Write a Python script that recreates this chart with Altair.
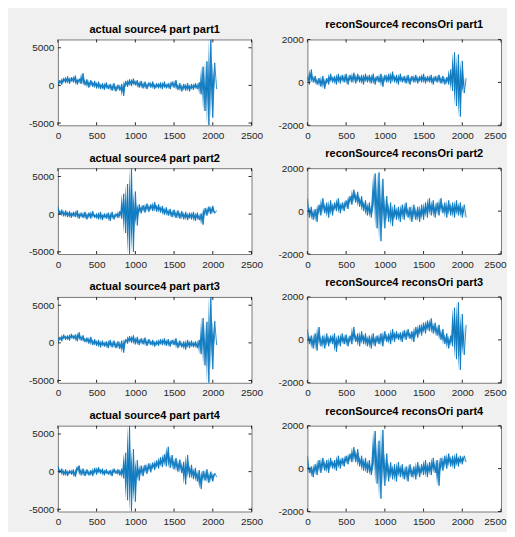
import altair as alt
import pandas as pd

# sample index of each value (every 25 samples, 0..2050)
XS = list(range(0, 2051, 25))

L1 = [0, 700, 100, 1000, 300, 1200, 200, 1100, 400, 1300,
      100, 900, 200, 1600, 0, 800, -300, 700, -200, 600,
      -400, 500, -500, 300, -600, 400, -500, 200, -700, 300,
      -800, 100, -700, 200, -1400, 600, -200, 800, -100, 900,
      0, 700, -300, 600, -400, 500, -500, 400, -300, 500,
      -500, 300, -400, 400, -500, 500, -400, 300, -500, 500,
      -300, 700, -600, 300, -800, 200, -700, 300, -800, 200,
      -600, 300, -500, 400, -1200, 2500, -3400, 3200, -5300, 6100,
      -4300, 3000, -500]
L2 = [1000, -100, 600, -300, 500, -400, 400, -500, 300, -400,
      500, -600, 200, -500, 300, -700, 200, -600, 400, -500,
      100, -700, 300, -800, 100, -600, 200, -900, 300, -700,
      100, -500, 400, -600, 2700, -2500, 4000, -5300, 6100, -5000,
      3000, -1500, 1300, 100, 1200, 200, 1400, 300, 1300, 400,
      1600, 300, 1300, 200, 1100, -100, 900, -200, 700, -400,
      600, -500, 500, -600, 400, -700, 300, -800, 200, -700,
      300, -900, 200, -800, 100, -1400, 800, -200, 1000, 0,
      1100, 100, 500]
L3 = [0, 800, 200, 1100, 400, 1000, 300, 1200, 500, 1100,
      200, 1400, 300, 1000, 100, 700, -100, 800, -300, 500,
      -400, 400, -600, 300, -500, 200, -700, 400, -600, 300,
      -700, 200, -800, 300, -1300, 500, -100, 900, 0, 1000,
      -200, 800, -300, 600, -200, 700, -400, 500, -300, 400,
      -500, 300, -400, 500, -300, 600, -400, 500, -500, 400,
      -300, 600, -700, 300, -600, 200, -900, 400, -700, 300,
      -600, 200, -700, 400, -1500, 3300, -3000, 2800, -5300, 6100,
      -3500, 2900, -300]
L4 = [800, -200, 400, -500, 300, -600, 200, -400, 300, -700,
      200, 800, -500, 400, -600, 300, -500, 200, -600, 500,
      -400, 600, -300, 400, -500, 300, -400, 200, -600, 400,
      -300, 300, -500, 400, -900, 2500, -3800, 6100, -5300, 3000,
      -4000, 1500, -1200, 800, -600, 900, -300, 1100, -100, 1200,
      200, 1500, 400, 1900, 600, 2300, 700, 3300, 500, 2200,
      300, 1800, 0, 1600, -200, 1300, -1700, 2200, -800, 900,
      -1000, 500, -1300, 200, -2300, 100, -1200, 300, -1500, 0,
      -1300, -200, -700]

R1 = [300, -100, 600, 0, 300, -100, 200, -200, 300, -300,
      200, -100, 400, 0, 300, -100, 400, -50, 350, 0,
      400, -100, 350, 0, 450, -50, 400, 0, 350, -100,
      400, 0, 350, -50, 400, -100, 300, 0, 400, -200,
      350, 0, 400, -50, 500, 0, 350, -100, 400, 0,
      300, -50, 350, -100, 300, 0, 350, -50, 300, 0,
      400, -50, 300, 0, 350, -100, 300, 0, 350, -50,
      300, -100, 250, -100, 600, -400, 1400, -1100, 1300, -1600,
      1000, -500, 200]
R2 = [600, -300, 200, -400, 100, -500, 300, -200, 600, -100,
      400, -300, 500, -200, 400, 0, 600, -100, 400, 0,
      500, 100, 700, 300, 1000, 400, 900, 200, 700, 0,
      500, -200, 400, -300, 300, 1750, -800, 1800, -1400, 1500,
      -800, 700, -500, 400, -700, 300, -400, 200, -500, 300,
      -400, 400, -300, 200, -500, 300, -400, 200, -500, 300,
      -400, 400, -300, 600, -200, 500, -300, 400, -200, 600,
      -100, 400, -300, 500, -200, 400, -300, 500, -200, 400,
      -300, 300, -300]
R3 = [500, -200, 200, -400, 300, -500, 600, -300, 200, -400,
      300, -300, 200, -200, 300, -550, 200, -300, 300, -200,
      250, -300, 200, -200, 600, -100, 300, -300, 400, -200,
      300, -300, 200, -400, 300, -300, 200, -200, 300, -300,
      400, -100, 300, -200, 500, -100, 400, 0, 350, -100,
      450, 0, 500, 50, 400, -100, 600, 100, 700, 200,
      800, 300, 900, 400, 1000, 300, 800, 200, 700, 0,
      500, -200, 300, -400, 200, -300, 1500, -900, 1750, -1400,
      1200, -700, 700]
R4 = [600, -200, 100, -400, 200, -300, 400, -200, 500, -100,
      400, -200, 500, 0, 400, -100, 600, 0, 500, 100,
      600, 200, 700, 300, 1000, 300, 900, 100, 600, -100,
      500, -200, 400, -300, 200, 1750, -700, 1300, -1400, 1800,
      -800, 700, -600, 300, -500, 200, -600, 300, -400, 200,
      -500, 100, -600, 200, -400, 100, -500, 300, -400, 200,
      -300, 400, -400, 300, -300, 500, -200, 400, -800, 500,
      -100, 600, 0, 700, 100, 600, 0, 700, 100, 600,
      200, 600, 300]

LEFT_TITLES = ["actual source4 part part1", "actual source4 part part2",
               "actual source4 part part3", "actual source4 part part4"]
RIGHT_TITLES = ["reconSource4 reconsOri part1", "reconSource4 reconsOri part2",
                "reconSource4 reconsOri part3", "reconSource4 reconsOri part4"]

X_TICKS = [0, 500, 1000, 1500, 2000, 2500]
X_DOMAIN = [0, 2500]
YL_TICKS = [-5000, 0, 5000]
YL_DOMAIN = [-5300, 6100]
YR_TICKS = [-2000, 0, 2000]
YR_DOMAIN = [-2000, 2000]

W, H = 194, 86
FONT = "Liberation Sans"
LINE = "#0072BD"
AX = "#262626"
TICK_LEN = 3


def panel(vals, title, ydom, yticks, right_col):
    df = pd.DataFrame({"x": XS, "y": vals})
    # band between each value and the next one (the swing of the trace)
    seg = pd.DataFrame({"x": XS[:-1], "y": vals[:-1], "y2": vals[1:]})
    xs = alt.Scale(domain=X_DOMAIN, nice=False, zero=False)
    ys = alt.Scale(domain=ydom, nice=False, zero=False)
    xax_kw = dict(values=X_TICKS, labelExpr="'' + datum.value", labelOverlap=False)
    if right_col:
        # keep the last label inside the page (window is only 515px wide)
        xax_kw["labelAlign"] = {"condition": {"test": "datum.value == 2500", "value": "right"},
                                "value": "center"}
        xax_kw["labelOffset"] = {"condition": {"test": "datum.value == 2500", "value": 5},
                                 "value": 0}
    xax = alt.Axis(**xax_kw)
    yax = alt.Axis(values=yticks, labelExpr="'' + datum.value", labelOverlap=False)
    band = alt.Chart(seg).mark_area(color=LINE, opacity=0.9, clip=True).encode(
        x=alt.X("x:Q", scale=xs, title=None, axis=xax),
        y=alt.Y("y:Q", scale=ys, title=None, axis=yax), y2="y2:Q",
    )
    line = alt.Chart(df).mark_line(color=LINE, strokeWidth=0.8, clip=True).encode(
        x=alt.X("x:Q", scale=xs, title=None, axis=xax),
        y=alt.Y("y:Q", scale=ys, title=None, axis=yax),
    )
    xt = pd.DataFrame({"x": X_TICKS})
    yt = pd.DataFrame({"y": yticks})
    xtop = alt.Chart(xt).mark_rule(color=AX, strokeWidth=1).encode(
        x=alt.X("x:Q", scale=xs, axis=xax), y=alt.value(0), y2=alt.value(TICK_LEN))
    xbot = alt.Chart(xt).mark_rule(color=AX, strokeWidth=1).encode(
        x=alt.X("x:Q", scale=xs, axis=xax), y=alt.value(H - TICK_LEN), y2=alt.value(H))
    yleft = alt.Chart(yt).mark_rule(color=AX, strokeWidth=1).encode(
        y=alt.Y("y:Q", scale=ys, axis=yax), x=alt.value(0), x2=alt.value(TICK_LEN))
    yright = alt.Chart(yt).mark_rule(color=AX, strokeWidth=1).encode(
        y=alt.Y("y:Q", scale=ys, axis=yax), x=alt.value(W - TICK_LEN), x2=alt.value(W))
    return alt.layer(band, line, xtop, xbot, yleft, yright).properties(
        width=W, height=H,
        title=alt.TitleParams(title, fontSize=11, fontWeight="bold", font=FONT,
                              color="#000000", offset=4),
    )


LEFT = [L1, L2, L3, L4]
RIGHT = [R1, R2, R3, R4]
panels = []
for i in range(4):
    panels.append(panel(LEFT[i], LEFT_TITLES[i], YL_DOMAIN, YL_TICKS, False))
    panels.append(panel(RIGHT[i], RIGHT_TITLES[i], YR_DOMAIN, YR_TICKS, True))

chart = alt.concat(*panels, columns=2, spacing={"row": 43, "column": 56},
                   bounds="flush").properties(
    padding={"left": 19, "top": 10, "right": 0, "bottom": 4},
    background="#f0f0f0",
).configure_view(
    stroke="#7a7a7a", strokeWidth=1, fill="white"
).configure_axis(
    domain=False, ticks=False, grid=False, labelFont=FONT, labelFontSize=10,
    labelColor=AX, labelFlush=False, labelOverlap=False
).configure_axisX(labelPadding=5).configure_axisY(labelPadding=4)

chart.save("out.html", embed_options={"renderer": "svg", "actions": False})
